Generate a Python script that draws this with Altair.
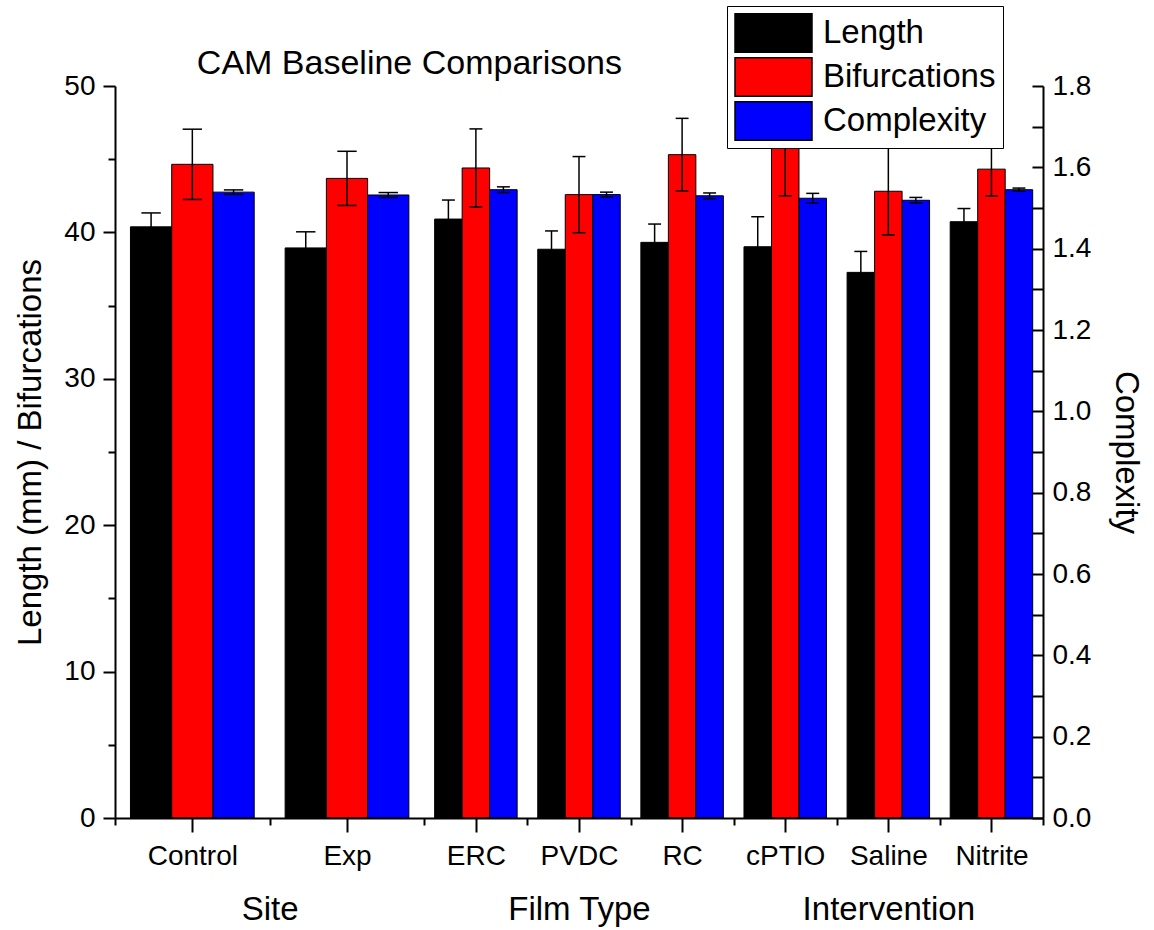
import altair as alt
import pandas as pd

# ---------------- data ----------------
categories = ["Control", "Exp", "ERC", "PVDC", "RC", "cPTIO", "Saline", "Nitrite"]
sections = ["Site", "Site", "Film Type", "Film Type", "Film Type",
            "Intervention", "Intervention", "Intervention"]
series_names = ["Length", "Bifurcations", "Complexity"]
series_colors = ["#000000", "#ff0000", "#0000ff"]

length_mean = [40.38, 38.94, 40.91, 38.85, 39.32, 39.02, 37.27, 40.73]
length_err = [0.95, 1.10, 1.30, 1.25, 1.25, 2.05, 1.43, 0.90]
bif_mean = [44.65, 43.69, 44.40, 42.58, 45.31, 47.20, 42.81, 44.32]
bif_err = [2.40, 1.85, 2.67, 2.60, 2.48, 4.70, 2.98, 1.83]
cplx_mean = [1.539, 1.532, 1.545, 1.533, 1.530, 1.524, 1.519, 1.545]
cplx_err = [0.0055, 0.006, 0.007, 0.006, 0.007, 0.012, 0.007, 0.004]

left_ticks = [0, 10, 20, 30, 40, 50]
left_minor = [5, 15, 25, 35, 45]
right_ticks = [round(i * 0.2, 1) for i in range(10)]
right_minor = [round(i * 0.1, 1) for i in range(19)]

# ---------------- layout helpers ----------------
FONT = "Liberation Sans, Arial, sans-serif"
W, H = 928, 732
PAD = {"left": 115, "top": 86, "right": 111, "bottom": 112}

# the "Site" categories are drawn 1.5x as wide as the others in the original
cat_units = [1.5 if s == "Site" else 1.0 for s in sections]
GROUP_FRAC = 0.8
CAP_FRAC = 0.235

rows = []
edges = [0.0]
centers = []
left = 0.0
for i, cat in enumerate(categories):
    w = cat_units[i]
    c = left + w / 2
    centers.append(c)
    g = GROUP_FRAC * w
    bw = g / 3
    for j, (name, mean, err) in enumerate([
        ("Length", length_mean[i], length_err[i]),
        ("Bifurcations", bif_mean[i], bif_err[i]),
        ("Complexity", cplx_mean[i], cplx_err[i]),
    ]):
        x0 = c - g / 2 + j * bw
        x1 = x0 + bw
        xc = (x0 + x1) / 2
        rows.append(dict(category=cat, section=sections[i], series=name,
                         x0=x0, x1=x1, xc=xc,
                         cap0=xc - CAP_FRAC * bw, cap1=xc + CAP_FRAC * bw,
                         value=mean, lo=mean - err, hi=mean + err))
    left += w
    edges.append(left)
X_MAX = left

df = pd.DataFrame(rows)
df_lr = df[df.series != "Complexity"]
df_c = df[df.series == "Complexity"]

sec_names = []
sec_centers = []
for s in dict.fromkeys(sections):
    idx = [k for k, v in enumerate(sections) if v == s]
    sec_names.append(s)
    sec_centers.append((edges[idx[0]] + edges[idx[-1] + 1]) / 2)

df_cat = pd.DataFrame({"center": centers, "v": [0] * len(centers)})


def js_list(vals):
    return "[" + ",".join(repr(v) if not isinstance(v, str) else "'" + v + "'" for v in vals) + "]"


cat_label_expr = f"{js_list(categories)}[indexof({js_list(centers)}, datum.value)]"
sec_label_expr = f"{js_list(sec_names)}[indexof({js_list(sec_centers)}, datum.value)]"

xs = alt.Scale(domain=[0, X_MAX], nice=False, zero=False)
ys_l = alt.Scale(domain=[0, 50], nice=False)
ys_r = alt.Scale(domain=[0, 1.8], nice=False)
cscale = alt.Scale(domain=series_names, range=series_colors)

common_axis = dict(grid=False, domainColor="black", tickColor="black",
                   labelColor="black", titleColor="black", labelFont=FONT,
                   titleFont=FONT, titleFontWeight="normal")

x_main_axis = alt.Axis(orient="bottom", values=centers, labelExpr=cat_label_expr,
                       tickSize=14, tickWidth=2, domainWidth=2, labelFontSize=28,
                       labelPadding=10, title=None, labelFlush=False,
                       labelOverlap=False, zindex=1, **common_axis)
x_minor_axis = alt.Axis(orient="bottom", values=edges, tickSize=7, tickWidth=2,
                        labels=False, domain=False, title=None, **common_axis)
x_sec_axis = alt.Axis(orient="bottom", values=sec_centers, labelExpr=sec_label_expr,
                      ticks=False, domain=False, labelFontSize=33, labelPadding=75,
                      title=None, labelFlush=False, labelOverlap=False, **common_axis)

y_left_axis = alt.Axis(orient="left", values=left_ticks, tickSize=12, tickWidth=2,
                       domainWidth=2, labelFontSize=28, labelPadding=8,
                       title="Length (mm) / Bifurcations", titleFontSize=33,
                       titlePadding=16, zindex=1, **common_axis)
y_left_minor = alt.Axis(orient="left", values=left_minor, tickSize=7, tickWidth=2,
                        labels=False, domain=False, title=None, **common_axis)
y_right_axis = alt.Axis(orient="right", values=right_ticks, format=".1f",
                        ticks=False, domainWidth=2, labelFontSize=28, labelPadding=9,
                        title="Complexity", titleFontSize=33, titlePadding=18,
                        zindex=1, **common_axis)
y_right_inward = alt.Axis(orient="left", offset=-W, values=right_minor, tickSize=11,
                          tickWidth=2, labels=False, domain=False, title=None,
                          **common_axis)

legend = alt.Legend(title=None, orient="none", legendX=612, legendY=-80,
                    symbolType="M-1,-0.5H1V0.5H-1Z", symbolSize=5929,
                    symbolStrokeColor="black", symbolStrokeWidth=1.5,
                    symbolOpacity=1, labelFont=FONT, labelFontSize=33,
                    labelColor="black", labelOffset=10, labelLimit=400,
                    rowPadding=4, padding=7, fillColor="white",
                    strokeColor="black", clipHeight=40)

# ---- layer: Length / Bifurcations bars (left scale) ----
bars_lr = alt.Chart(df_lr).mark_rect(stroke="black", strokeWidth=1, clip=True).encode(
    x=alt.X("x0:Q", scale=xs, axis=x_main_axis),
    x2="x1:Q",
    y=alt.Y("value:Q", scale=ys_l, axis=y_left_axis),
    y2=alt.datum(0),
    color=alt.Color("series:N", scale=cscale, legend=legend),
)
whisk_lr = alt.Chart(df_lr).mark_rule(color="black", strokeWidth=1.5, clip=True).encode(
    x=alt.X("xc:Q", scale=xs, axis=None),
    y=alt.Y("lo:Q", scale=ys_l, axis=None),
    y2="hi:Q",
)
capt_lr = alt.Chart(df_lr).mark_rule(color="black", strokeWidth=1.5, clip=True).encode(
    x=alt.X("cap0:Q", scale=xs, axis=None), x2="cap1:Q",
    y=alt.Y("hi:Q", scale=ys_l, axis=None),
)
capb_lr = alt.Chart(df_lr).mark_rule(color="black", strokeWidth=1.5, clip=True).encode(
    x=alt.X("cap0:Q", scale=xs, axis=None), x2="cap1:Q",
    y=alt.Y("lo:Q", scale=ys_l, axis=None),
)

# ---- layer: Complexity bars (right scale) ----
bars_c = alt.Chart(df_c).mark_rect(stroke="black", strokeWidth=1).encode(
    x=alt.X("x0:Q", scale=xs, axis=None),
    x2="x1:Q",
    y=alt.Y("value:Q", scale=ys_r, axis=y_right_axis),
    y2=alt.datum(0),
    color=alt.Color("series:N", scale=cscale, legend=None),
)
whisk_c = alt.Chart(df_c).mark_rule(color="black", strokeWidth=1.5).encode(
    x=alt.X("xc:Q", scale=xs, axis=None),
    y=alt.Y("lo:Q", scale=ys_r, axis=None),
    y2="hi:Q",
)
capt_c = alt.Chart(df_c).mark_rule(color="black", strokeWidth=1.5).encode(
    x=alt.X("cap0:Q", scale=xs, axis=None), x2="cap1:Q",
    y=alt.Y("hi:Q", scale=ys_r, axis=None),
)
capb_c = alt.Chart(df_c).mark_rule(color="black", strokeWidth=1.5).encode(
    x=alt.X("cap0:Q", scale=xs, axis=None), x2="cap1:Q",
    y=alt.Y("lo:Q", scale=ys_r, axis=None),
)

# ---- invisible layers carrying extra axes (minor ticks, section labels) ----
minor_layer = alt.Chart(df_cat).mark_point(opacity=0).encode(
    x=alt.X("center:Q", scale=xs, axis=x_minor_axis),
    y=alt.Y("v:Q", scale=ys_l, axis=y_left_minor),
)
sec_layer = alt.Chart(df_cat).mark_point(opacity=0).encode(
    x=alt.X("center:Q", scale=xs, axis=x_sec_axis),
    y=alt.Y("v:Q", scale=ys_r, axis=y_right_inward),
)

chart = alt.layer(
    minor_layer, sec_layer,
    bars_lr, whisk_lr, capt_lr, capb_lr,
    bars_c, whisk_c, capt_c, capb_c,
).resolve_scale(
    y="independent"
).resolve_axis(
    x="independent", y="independent"
).properties(
    width=W, height=H, padding=PAD,
    autosize=alt.AutoSizeParams(type="none"),
    background="white",
    title=alt.TitleParams("CAM Baseline Comparisons", anchor="start", dx=182, dy=106,
                          font=FONT, fontSize=34, fontWeight="normal",
                          color="black", baseline="alphabetic"),
).configure_view(stroke=None)

chart.save("out.html", embed_options={"renderer": "svg", "actions": False})
